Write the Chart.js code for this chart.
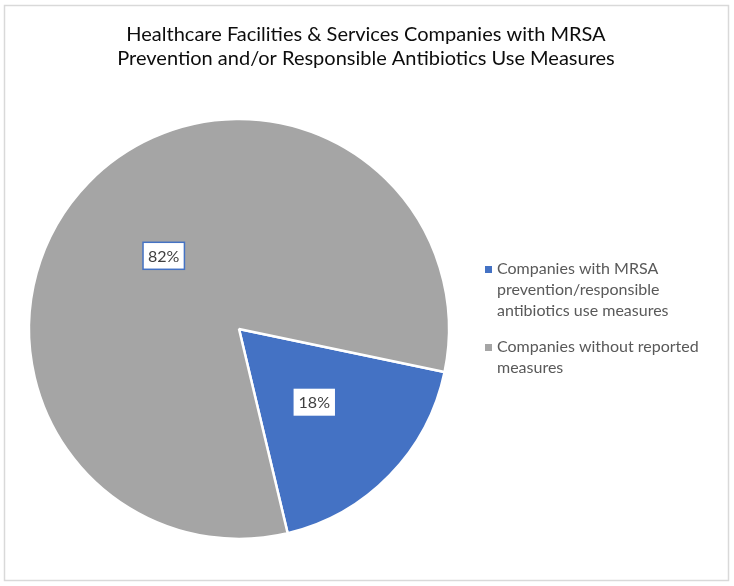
<!DOCTYPE html>
<html>
<head>
<meta charset="utf-8">
<script src="https://cdn.jsdelivr.net/npm/chart.js@4.4.1/dist/chart.umd.min.js"></script>
<style>
  html, body { margin: 0; padding: 0; background: #fff; }
  #wrap { width: 734px; height: 586px; position: relative; }
</style>
</head>
<body>
<div id="wrap"><canvas id="chart" width="734" height="586"></canvas></div>
<script>
const titleLines = [
  "Healthcare Facilities & Services Companies with MRSA",
  "Prevention and/or Responsible Antibiotics Use Measures"
];
const categories = [
  "Companies with MRSA prevention/responsible antibiotics use measures",
  "Companies without reported measures"
];
const legendLines = [
  ["Companies with MRSA", "prevention/responsible", "antibiotics use measures"],
  ["Companies without reported", "measures"]
];
const shares = [18, 82];
const colors = ["#4472C4", "#A5A5A5"];

const FONT = "Lato, 'Open Sans', sans-serif";

const decor = {
  id: "decor",
  beforeDraw(c) {
    const ctx = c.ctx;
    ctx.save();
    ctx.fillStyle = "#fff";
    ctx.fillRect(0, 0, c.width, c.height);
    ctx.strokeStyle = "#d9d9d9";
    ctx.lineWidth = 1.5;
    ctx.strokeRect(4.5, 5.5, 724, 575);
    // title
    ctx.fillStyle = "#0d0d0d";
    ctx.font = "20px " + FONT;
    ctx.textAlign = "center";
    ctx.textBaseline = "alphabetic";
    titleLines.forEach((t, i) => ctx.fillText(t, 366, 41 + i * 24));
    // legend
    ctx.textAlign = "left";
    ctx.textBaseline = "middle";
    ctx.font = "16px " + FONT;
    let y = 269;
    legendLines.forEach((lines, i) => {
      ctx.fillStyle = colors[i];
      ctx.fillRect(485, y - 3, 7, 7);
      ctx.fillStyle = "#595959";
      lines.forEach((ln, j) => ctx.fillText(ln, 497, y + j * 21));
      y += lines.length * 21 + 15;
    });
    ctx.restore();
  },
  afterDatasetsDraw(c) {
    const ctx = c.ctx;
    const meta = c.getDatasetMeta(0);
    ctx.save();
    ctx.font = "16px " + FONT;
    ctx.textAlign = "center";
    ctx.textBaseline = "middle";
    meta.data.forEach((arc, i) => {
      const p = arc.tooltipPosition();
      const txt = shares[i] + "%";
      const w = ctx.measureText(txt).width + 10;
      const h = 27;
      ctx.fillStyle = "#fff";
      ctx.fillRect(p.x - w / 2, p.y - h / 2, w, h);
      if (i === 1) {
        ctx.strokeStyle = "#4472C4";
        ctx.lineWidth = 1.5;
        ctx.strokeRect(p.x - w / 2, p.y - h / 2, w, h);
      }
      ctx.fillStyle = "#404040";
      ctx.fillText(txt, p.x, p.y + 1);
    });
    ctx.restore();
  }
};

new Chart(document.getElementById("chart"), {
  type: "pie",
  data: {
    labels: categories,
    datasets: [{
      data: shares,
      backgroundColor: colors,
      borderColor: "#fff",
      borderWidth: 2.5,
      radius: 210
    }]
  },
  options: {
    responsive: false,
    animation: false,
    rotation: 101.8,
    layout: { padding: { left: 20, right: 276, top: 100, bottom: 28 } },
    plugins: {
      legend: { display: false },
      title: { display: false },
      tooltip: { enabled: false }
    }
  },
  plugins: [decor]
});
</script>
</body>
</html>
